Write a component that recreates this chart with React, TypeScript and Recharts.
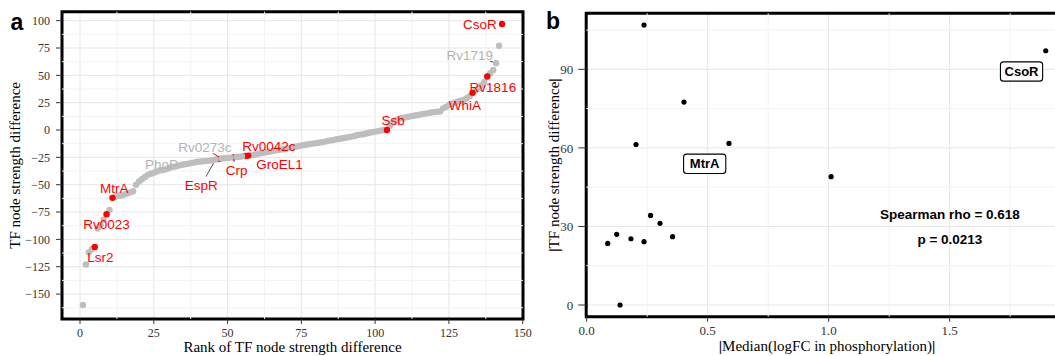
import React from "react";
import {
  ScatterChart,
  Scatter,
  XAxis,
  YAxis,
  CartesianGrid,
  ReferenceLine,
  ReferenceArea,
  ReferenceDot,
  Label,
} from "recharts";

const SERIF = "'Liberation Serif', 'Times New Roman', serif";
const SANS = "'Liberation Sans', Arial, sans-serif";
const MAJOR = "#e6e6e6";
const MINOR = "#f3f3f3";
const RED = "#ff0000";
const GREY = "#bebebe";
const GREY_TEXT = "#b3b3b3";

// panel a: TF node strength difference, sorted (rank = index + 1)
const strengthDiff = [
  -160, -123, -112, -109, -107, -90, -87, -82, -77, -73,
  -62, -61, -60, -60, -59, -58, -57, -56, -50, -47,
  -45, -43, -41, -40, -39, -38, -37, -36.5, -36, -35,
  -34, -33.5, -33, -32, -31.5, -31, -30.5, -30, -29.5, -29,
  -28.8, -28.5, -28.2, -28, -27.5, -27, -26.5, -26, -25.8, -25.5,
  -25.2, -25, -24.7, -24.4, -24, -23.7, -23.4, -23, -22.5, -22,
  -21.3, -20.8, -20.3, -19.8, -19.3, -18.8, -18.3, -17.8, -17.3, -16.8,
  -16.3, -15.8, -15.2, -14.7, -14.2, -13.7, -13.2, -12.8, -12.4, -12,
  -11.6, -11.1, -10.6, -10, -9.5, -9, -8.5, -8, -7.5, -7,
  -6.5, -6, -5.5, -4.6, -4.2, -3.8, -3.2, -2.5, -2, -1.5,
  -1, -0.5, 0, 0, 4, 7, 9, 10, 11, 11.5,
  12, 12.5, 13, 13.5, 14, 14.7, 15, 15.5, 16, 16.4,
  16.7, 17, 19.8, 21, 22.8, 24, 25, 26, 26.8, 27.4,
  29, 31, 34, 36, 38, 41, 44, 49, 52, 55,
  61, 77, 97,
];
const highlightRanks = [5, 9, 11, 47, 52, 56, 57, 104, 133, 138, 143];
const coveredRanks = [47, 52, 56];

const rankTicks = [0, 25, 50, 75, 100, 125, 150];
const diffTicks = [-150, -125, -100, -75, -50, -25, 0, 25, 50, 75, 100];

const redLabels = ["CsoR", "Rv1816", "WhiA", "Ssb", "Rv0042c", "GroEL1", "Crp", "EspR", "MtrA", "Rv0023", "Lsr2"];
const greyLabels = ["Rv1719", "Rv0273c", "PhoP"];

// label placement (rank, diff) for the repelled text
const labelSpot: Record<string, [number, number]> = {
  CsoR: [135.5, 96.7],
  Rv1816: [139.9, 39.2],
  WhiA: [130.4, 22.4],
  Ssb: [106.1, 8.9],
  Rv0042c: [64, -14.4],
  GroEL1: [67.6, -31],
  Crp: [53.1, -36.6],
  EspR: [41.1, -50.8],
  MtrA: [11.6, -53.5],
  Rv0023: [9.0, -86.4],
  Lsr2: [6.9, -115.9],
  Rv1719: [132.1, 68.7],
  Rv0273c: [42.3, -15.8],
  PhoP: [27.6, -31.6],
};
const labelLinks: [number, number, number, number][] = [
  [33.6, -30.4, 38.1, -30.4],
  [45, -21.3, 46.6, -23.7],
  [46.6, -23.7, 42.7, -42.6],
  [52, -25.5, 52.3, -29],
  [56.2, -22.8, 59, -24.9],
  [138.9, 63, 141.4, 60.9],
  [130.9, 27.4, 132.8, 33.5],
];

// panel b
const medianLogFC = [0.237, 0.402, 0.204, 0.588, 1.897, 1.01, 0.087, 0.124, 0.183, 0.237, 0.264, 0.303, 0.355, 0.138];
const absStrength = [106.9, 77.5, 61.3, 61.7, 97.1, 49, 23.5, 27, 25.3, 24.2, 34.2, 31.2, 26.1, 0];
const fcTicks = [0, 0.5, 1, 1.5];
const absTicks = [0, 30, 60, 90];
const boxedLabels: { name: string; at: [number, number] }[] = [
  { name: "MtrA", at: [0.4876, 53.95] },
  { name: "CsoR", at: [1.797, 89.2] },
];
const statLines = ["Spearman rho = 0.618", "p = 0.0213"];

const minorOf = (t: number[]) => {
  const step = t[1] - t[0];
  const out = [t[0] - step / 2];
  t.forEach((v) => out.push(v + step / 2));
  return out;
};

const dot = (fill: string, r: number) => (p: any) =>
  <circle cx={p.cx} cy={p.cy} r={r} fill={fill} />;

const yTitle = (x: number, content: React.ReactNode) => (p: any) => {
  const vb = p.viewBox || {};
  const cy = vb.y + vb.height / 2;
  return (
    <text x={x} y={cy} transform={`rotate(-90 ${x} ${cy})`} textAnchor="middle" fontFamily={SERIF} fontSize={15} fill="#000">
      {content}
    </text>
  );
};

const xTitle = (y: number, content: React.ReactNode) => (p: any) => {
  const vb = p.viewBox || {};
  return (
    <text x={vb.x + vb.width / 2} y={y} textAnchor="middle" fontFamily={SERIF} fontSize={15} fill="#000">
      {content}
    </text>
  );
};

const boxLabel = (name: string) => (p: any) => {
  const vb = p.viewBox || {};
  const cx = vb.x + (vb.width || 0) / 2;
  const cy = vb.y + (vb.height || 0) / 2;
  const w = name.length * 7.8 + 11;
  return (
    <g>
      <rect x={cx - w / 2} y={cy - 9.6} width={w} height={19.3} rx={3} fill="#fff" stroke="#000" strokeWidth={1.1} />
      <text x={cx} y={cy + 4.6} textAnchor="middle" fontFamily={SANS} fontWeight="bold" fontSize={13} fill="#000">
        {name}
      </text>
    </g>
  );
};

function PanelA() {
  const all = strengthDiff.map((v, i) => ({ rank: i + 1, diff: v }));
  const grey = all.filter((d) => !highlightRanks.includes(d.rank));
  const redUnder = all.filter((d) => coveredRanks.includes(d.rank));
  const redTop = all.filter((d) => highlightRanks.includes(d.rank) && !coveredRanks.includes(d.rank));
  const xDom: [number, number] = [-6.1, 150.1];
  const yDom: [number, number] = [-172.8, 108.2];
  return (
    <ScatterChart width={535} height={356} margin={{ top: 11.7, right: 12, bottom: 0, left: 0 }}>
      <CartesianGrid stroke={MAJOR} />
      {minorOf(diffTicks).map((v) => (
        <ReferenceLine key={`my${v}`} y={v} stroke={MINOR} />
      ))}
      {minorOf(rankTicks).map((v) => (
        <ReferenceLine key={`mx${v}`} x={v} stroke={MINOR} />
      ))}
      <XAxis
        type="number"
        dataKey="rank"
        domain={xDom}
        ticks={rankTicks}
        interval={0}
        allowDataOverflow
        height={37}
        axisLine={false}
        tickSize={5}
        tickMargin={4}
        tickLine={{ stroke: "#333" }}
        tick={{ fill: "#333", fontSize: 12, fontFamily: SERIF }}
      >
        <Label content={xTitle(351.5, "Rank of TF node strength difference")} />
      </XAxis>
      <YAxis
        type="number"
        dataKey="diff"
        domain={yDom}
        ticks={diffTicks}
        interval={0}
        allowDataOverflow
        width={62}
        axisLine={false}
        tickSize={6}
        tickMargin={6}
        tickLine={{ stroke: "#333" }}
        tick={{ fill: "#333", fontSize: 12, fontFamily: SERIF }}
        tickFormatter={(v: number) => (v < 0 ? `\u2212${-v}` : `${v}`)}
      >
        <Label content={yTitle(20.5, "TF node strength difference")} />
      </YAxis>
      {labelLinks.map(([x1, y1, x2, y2], i) => (
        <ReferenceLine
          key={`ln${i}`}
          segment={[{ x: x1, y: y1 }, { x: x2, y: y2 }]}
          stroke="#555"
          strokeWidth={1}
        />
      ))}
      {greyLabels.map((n) => (
        <ReferenceDot
          key={n}
          x={labelSpot[n][0]}
          y={labelSpot[n][1]}
          r={0}
          label={{ value: n, position: "center", fill: GREY_TEXT, fontSize: 13.5, fontFamily: SANS }}
        />
      ))}
      <Scatter data={redUnder} isAnimationActive={false} shape={dot(RED, 3.2)} />
      <Scatter data={grey} isAnimationActive={false} shape={dot(GREY, 3.2)} />
      <Scatter data={redTop} isAnimationActive={false} shape={dot(RED, 3.2)} />
      {redLabels.map((n) => (
        <ReferenceDot
          key={n}
          x={labelSpot[n][0]}
          y={labelSpot[n][1]}
          r={0}
          label={{ value: n, position: "center", fill: RED, fontSize: 13.5, fontFamily: SANS }}
        />
      ))}
      <ReferenceArea x1={xDom[0]} x2={xDom[1]} y1={yDom[0]} y2={yDom[1]} fill="none" stroke="#000" strokeWidth={3} ifOverflow="visible" />
    </ScatterChart>
  );
}

function PanelB() {
  const pts = medianLogFC.map((x, i) => ({ fc: x, abs: absStrength[i] }));
  const xDom: [number, number] = [-0.002, 1.989];
  const yDom: [number, number] = [-4.47, 111.4];
  const bar = <tspan fontWeight="bold">|</tspan>;
  return (
    <ScatterChart width={545} height={356} margin={{ top: 13.3, right: 12, bottom: 0, left: 0 }}>
      <CartesianGrid stroke={MAJOR} />
      {minorOf(absTicks).map((v) => (
        <ReferenceLine key={`my${v}`} y={v} stroke={MINOR} />
      ))}
      {minorOf(fcTicks).map((v) => (
        <ReferenceLine key={`mx${v}`} x={v} stroke={MINOR} />
      ))}
      <XAxis
        type="number"
        dataKey="fc"
        domain={xDom}
        ticks={fcTicks}
        interval={0}
        allowDataOverflow
        height={39.3}
        axisLine={false}
        tickSize={5}
        tickMargin={4}
        tickLine={{ stroke: "#333" }}
        tick={{ fill: "#333", fontSize: 13, fontFamily: SERIF }}
        tickFormatter={(v: number) => v.toFixed(1)}
      >
        <Label content={xTitle(351, <>{bar}Median(logFC in phosphorylation){bar}</>)} />
      </XAxis>
      <YAxis
        type="number"
        dataKey="abs"
        domain={yDom}
        ticks={absTicks}
        interval={0}
        allowDataOverflow
        width={51.2}
        axisLine={false}
        tickSize={8}
        tickMargin={5}
        tickLine={{ stroke: "#333" }}
        tick={{ fill: "#333", fontSize: 13, fontFamily: SERIF }}
      >
        <Label content={yTitle(24, <>{bar}TF node strength difference{bar}</>)} />
      </YAxis>
      <Scatter data={pts} isAnimationActive={false} shape={dot("#000", 2.6)} />
      {boxedLabels.map((b) => (
        <ReferenceDot key={b.name} x={b.at[0]} y={b.at[1]} r={0} label={{ content: boxLabel(b.name) }} />
      ))}
      {statLines.map((s, i) => (
        <ReferenceDot
          key={s}
          x={1.501}
          y={i === 0 ? 34.8 : 25}
          r={0}
          label={{ value: s, position: "center", fill: "#000", fontSize: 13.5, fontFamily: SANS, fontWeight: "bold" }}
        />
      ))}
      <ReferenceArea x1={xDom[0]} x2={xDom[1]} y1={yDom[0]} y2={yDom[1]} fill="none" stroke="#000" strokeWidth={3} ifOverflow="visible" />
    </ScatterChart>
  );
}

export default function App() {
  return (
    <div style={{ position: "absolute", left: 0, top: 0, width: 1055, height: 356, overflow: "hidden", background: "#fff" }}>
      <div style={{ position: "absolute", left: 0, top: 0 }}>
        <PanelA />
      </div>
      <div style={{ position: "absolute", left: 535, top: 0 }}>
        <PanelB />
      </div>
      <svg width={1055} height={356} style={{ position: "absolute", left: 0, top: 0, pointerEvents: "none" }}>
        <text x={10.5} y={30} fontFamily={SANS} fontWeight="bold" fontSize={23} fill="#000">a</text>
        <text x={546} y={29.3} fontFamily={SANS} fontWeight="bold" fontSize={23} fill="#000">b</text>
      </svg>
    </div>
  );
}
